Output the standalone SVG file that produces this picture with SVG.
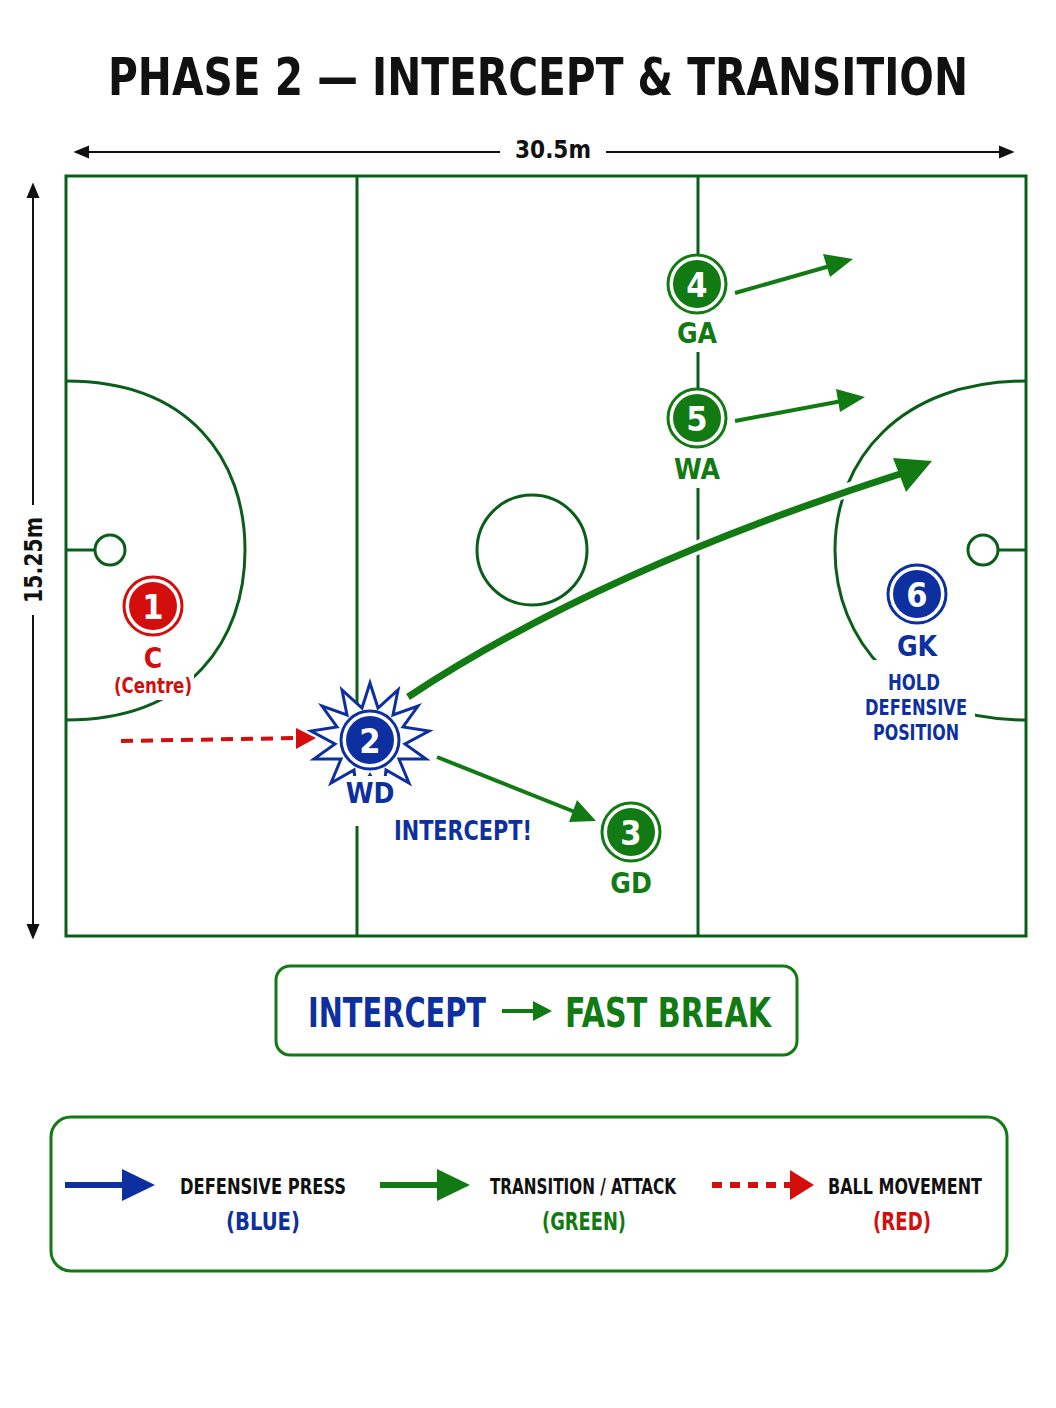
<svg xmlns="http://www.w3.org/2000/svg" width="1056" height="1408" viewBox="0 0 1056 1408">
<style>
text{font-family:"DejaVu Sans",sans-serif;font-stretch:condensed;font-weight:bold;text-anchor:middle}
.ln{fill:none;stroke:#0b5e1a;stroke-width:3}
.g{fill:#127a12}.b{fill:#0d2fa0}.r{fill:#d40d0d}.k{fill:#111}
</style>
<rect width="1056" height="1408" fill="#fff"/>
<text x="538" y="95" font-size="52" class="k" textLength="860" lengthAdjust="spacingAndGlyphs">PHASE 2 — INTERCEPT &amp; TRANSITION</text>
<g id="dims" stroke="#111" stroke-width="2" fill="#111">
<line x1="80" y1="152" x2="500" y2="152"/><path d="M76,152 l12,-5 v10z"/>
<line x1="606" y1="152" x2="1008" y2="152"/><path d="M1012,152 l-12,-5 v10z"/>
<line x1="33" y1="190" x2="33" y2="505"/><path d="M33,185 l-5,12 h10z"/>
<line x1="33" y1="615" x2="33" y2="932"/><path d="M33,937 l-5,-12 h10z"/>
</g>
<text x="553" y="158" font-size="24" class="k" textLength="76" lengthAdjust="spacingAndGlyphs">30.5m</text>
<text transform="translate(42,560) rotate(-90)" font-size="24" class="k" textLength="86" lengthAdjust="spacingAndGlyphs">15.25m</text>
<g id="court">
<rect x="66" y="176" width="960" height="760" class="ln"/>
<line x1="357" y1="176" x2="357" y2="936" class="ln"/>
<line x1="698" y1="176" x2="698" y2="936" class="ln"/>
<path d="M66,381 C190,381 245,460 245,550 C245,640 190,720 66,720" class="ln"/>
<path d="M1026,381 C900,381 835,460 835,550 C835,640 900,720 1026,720" class="ln"/>
<circle cx="532" cy="550" r="55" class="ln"/>
<line x1="66" y1="550" x2="95" y2="550" class="ln"/>
<circle cx="110" cy="550" r="15" class="ln" fill="#fff"/>
<line x1="998" y1="550" x2="1026" y2="550" class="ln"/>
<circle cx="983" cy="550" r="15" class="ln"/>
<rect x="675" y="312" width="46" height="40" fill="#fff"/>
<rect x="675" y="448" width="46" height="40" fill="#fff"/>
<rect x="340" y="772" width="34" height="54" fill="#fff"/>
<rect x="860" y="660" width="115" height="86" fill="#fff"/>
<rect x="112" y="640" width="82" height="60" fill="#fff"/>
</g>
<g id="connectors">
<path d="M408,697 Q600,570 925,464" fill="none" stroke="#fff" stroke-width="14"/>
<path d="M408,697 Q600,570 900,474" fill="none" stroke="#127a12" stroke-width="7"/>
<path d="M932,461 L893,458 L906,492 z" fill="#127a12"/>
<line x1="735" y1="293" x2="830" y2="266" stroke="#127a12" stroke-width="4"/><path d="M853,259 L823,254 L830,277z" fill="#127a12"/>
<line x1="735" y1="421" x2="842" y2="401" stroke="#127a12" stroke-width="4"/><path d="M865,397 L836,389 L840,412z" fill="#127a12"/>
<line x1="437" y1="757" x2="575" y2="812" stroke="#127a12" stroke-width="4"/><path d="M596,821 L577,800 L569,822z" fill="#127a12"/>
<line x1="121" y1="741" x2="298" y2="738" stroke="#d40d0d" stroke-width="4" stroke-dasharray="12,8"/><path d="M316,738 L296,728 L296,749z" fill="#d40d0d"/>
</g>
<g id="p1"><circle cx="153" cy="606" r="29" fill="#fff" stroke="#d40d0d" stroke-width="3"/><circle cx="153" cy="606" r="24" class="r"/><text x="153" y="619" font-size="34" fill="#fff">1</text><text x="153" y="668" font-size="28" class="r">C</text><text x="153" y="693" font-size="22" class="r" textLength="78" lengthAdjust="spacingAndGlyphs">(Centre)</text></g>
<g id="p2"><polygon points="370,683 378,708 398,690 393,715 418,706 403,727 429,731 405,744 426,759 399,759 409,783 386,770 383,797 370,775 357,797 354,770 331,783 341,759 314,759 335,744 311,731 337,727 322,706 347,715 342,690 362,708" fill="#fff" stroke="#0d2fa0" stroke-width="3"/><rect x="346" y="776" width="48" height="32" fill="#fff"/><circle cx="370" cy="740" r="29" fill="#fff" stroke="#0d2fa0" stroke-width="3"/><circle cx="370" cy="740" r="24" class="b"/><text x="370" y="753" font-size="34" fill="#fff">2</text><text x="370" y="803" font-size="28" class="b">WD</text><text x="463" y="840" font-size="26" class="b" textLength="138" lengthAdjust="spacingAndGlyphs">INTERCEPT!</text></g>
<g id="p3"><circle cx="631" cy="832" r="29" fill="#fff" stroke="#127a12" stroke-width="3"/><circle cx="631" cy="832" r="24" class="g"/><text x="631" y="845" font-size="34" fill="#fff">3</text><text x="631" y="893" font-size="28" class="g">GD</text></g>
<g id="p4"><circle cx="697" cy="284" r="29" fill="#fff" stroke="#127a12" stroke-width="3"/><circle cx="697" cy="284" r="24" class="g"/><text x="697" y="297" font-size="34" fill="#fff">4</text><text x="697" y="343" font-size="28" class="g">GA</text></g>
<g id="p5"><circle cx="697" cy="418" r="29" fill="#fff" stroke="#127a12" stroke-width="3"/><circle cx="697" cy="418" r="24" class="g"/><text x="697" y="431" font-size="34" fill="#fff">5</text><text x="697" y="479" font-size="28" class="g">WA</text></g>
<g id="p6"><circle cx="917" cy="594" r="29" fill="#fff" stroke="#0d2fa0" stroke-width="3"/><circle cx="917" cy="594" r="24" class="b"/><text x="917" y="607" font-size="34" fill="#fff">6</text><text x="917" y="656" font-size="28" class="b">GK</text><text x="914" y="690" font-size="22" class="b" textLength="52" lengthAdjust="spacingAndGlyphs">HOLD</text><text x="916" y="715" font-size="22" class="b" textLength="102" lengthAdjust="spacingAndGlyphs">DEFENSIVE</text><text x="916" y="740" font-size="22" class="b" textLength="86" lengthAdjust="spacingAndGlyphs">POSITION</text></g>
<g id="banner"><rect x="276" y="966" width="521" height="89" rx="14" fill="#fff" stroke="#127a12" stroke-width="3"/><text x="397" y="1027" font-size="40" class="b" textLength="178" lengthAdjust="spacingAndGlyphs">INTERCEPT</text><line x1="502" y1="1011" x2="535" y2="1011" stroke="#127a12" stroke-width="4"/><path d="M552,1011 L533,1001 L533,1021z" fill="#127a12"/><text x="668" y="1027" font-size="40" class="g" textLength="206" lengthAdjust="spacingAndGlyphs">FAST BREAK</text></g>
<g id="legend"><rect x="51" y="1117" width="956" height="154" rx="20" fill="#fff" stroke="#127a12" stroke-width="3"/>
<line x1="65" y1="1185" x2="125" y2="1185" stroke="#0d2fa0" stroke-width="6"/><path d="M122,1169 L155,1185 L122,1201z" fill="#0d2fa0"/>
<text x="263" y="1194" font-size="22" class="k" textLength="166" lengthAdjust="spacingAndGlyphs">DEFENSIVE PRESS</text><text x="263" y="1230" font-size="24" class="b" textLength="74" lengthAdjust="spacingAndGlyphs">(BLUE)</text>
<line x1="380" y1="1185" x2="440" y2="1185" stroke="#127a12" stroke-width="6"/><path d="M437,1169 L470,1185 L437,1201z" fill="#127a12"/>
<text x="583" y="1194" font-size="22" class="k" textLength="186" lengthAdjust="spacingAndGlyphs">TRANSITION / ATTACK</text><text x="584" y="1230" font-size="24" class="g" textLength="84" lengthAdjust="spacingAndGlyphs">(GREEN)</text>
<line x1="712" y1="1185" x2="790" y2="1185" stroke="#d40d0d" stroke-width="6" stroke-dasharray="10,8"/><path d="M790,1170 L814,1185 L790,1200z" fill="#d40d0d"/>
<text x="905" y="1194" font-size="22" class="k" textLength="154" lengthAdjust="spacingAndGlyphs">BALL MOVEMENT</text><text x="902" y="1230" font-size="24" class="r" textLength="58" lengthAdjust="spacingAndGlyphs">(RED)</text></g>
</svg>
